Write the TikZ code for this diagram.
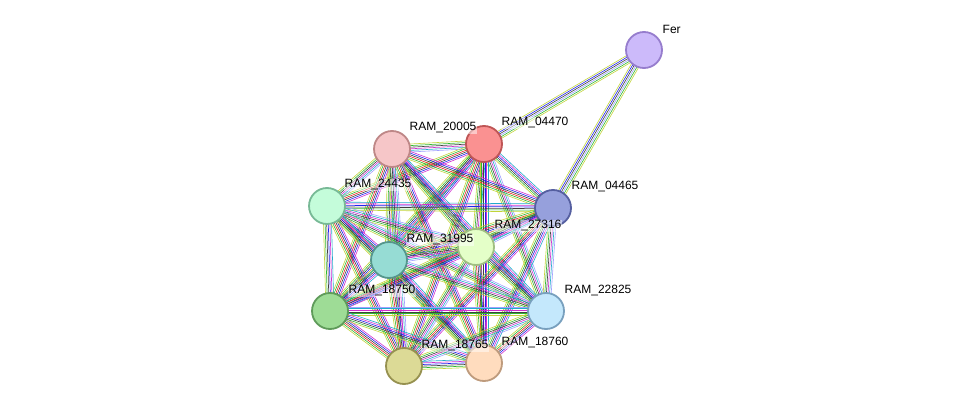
\documentclass[tikz,border=0pt]{standalone}
\usepackage{fontspec}
\setmainfont{Liberation Sans}
\usetikzlibrary{calc}
\definecolor{yg}{HTML}{C2D43A}
\definecolor{gr}{HTML}{2FB82F}
\definecolor{bk}{HTML}{404040}
\definecolor{bl}{HTML}{2222EE}
\definecolor{mg}{HTML}{D030D0}
\definecolor{cy}{HTML}{22AACC}
\definecolor{lv}{HTML}{A0A0FF}
\definecolor{rd}{HTML}{EE2222}
\newcommand\bund[3]{%
  \foreach \cc [count=\ii] in {#3} {%
    \pgfmathsetmacro\oo{(\ii-3.5)*1.6}%
    \draw[\cc,line width=0.6pt] ($(#1)!\oo pt!90:(#2)$) -- ($(#2)!\oo pt!-90:(#1)$);
  }}
\tikzset{
  nd/.style={circle,minimum size=36pt,inner sep=0pt,line width=1.8pt},
  lb/.style={font=\fontsize{12pt}{13pt}\selectfont,text=black,inner sep=0.5pt,fill=white,fill opacity=0.5,text opacity=1,anchor=south west}
}
\begin{document}
\begin{tikzpicture}[x=1pt,y=-1pt]
\useasboundingbox (0,0) rectangle (976,412);
\coordinate (Fer) at (644,50);
\coordinate (A) at (484,144);
\coordinate (B) at (392,149);
\coordinate (C) at (327,206);
\coordinate (D) at (553,208);
\coordinate (E) at (476,247);
\coordinate (F) at (389,260);
\coordinate (G) at (330,311);
\coordinate (H) at (546,311);
\coordinate (I) at (404,366);
\coordinate (J) at (484,363);
\bund{Fer}{A}{yg,bl,bk,lv,gr,yg}
\bund{Fer}{D}{yg,bl,bk,lv,gr,yg}
\foreach \p/\q [count=\k] in {A/B,A/C,A/D,A/E,A/F,A/G,A/H,A/I,A/J,B/C,B/D,B/E,B/F,B/G,B/H,B/I,B/J,C/D,C/E,C/F,C/G,C/H,C/I,C/J,D/E,D/F,D/G,D/H,D/I,D/J,E/F,E/G,E/H,E/I,E/J,F/G,F/H,F/I,F/J,G/H,G/I,G/J,H/I,H/J,I/J} {
  \pgfmathtruncatemacro\mm{mod(\k,3)}
  \ifnum\mm=0 \bund{\p}{\q}{yg,gr,bk,bl,mg,cy}\fi
  \ifnum\mm=1 \bund{\p}{\q}{yg,gr,bk,mg,cy,lv}\fi
  \ifnum\mm=2 \bund{\p}{\q}{yg,gr,rd,bk,bl,mg}\fi
}
\node[nd,fill={rgb,255:red,204;green,186;blue,250},draw={rgb,255:red,150;green,125;blue,205}] (nFer) at (Fer) {};
\node[nd,fill={rgb,255:red,250;green,145;blue,145},draw={rgb,255:red,190;green,85;blue,85}] (nA) at (A) {};
\node[nd,fill={rgb,255:red,246;green,198;blue,200},draw={rgb,255:red,190;green,135;blue,135}] (nB) at (B) {};
\node[nd,fill={rgb,255:red,196;green,252;blue,218},draw={rgb,255:red,120;green,185;blue,150}] (nC) at (C) {};
\node[nd,fill={rgb,255:red,150;green,160;blue,220},draw={rgb,255:red,85;green,95;blue,160}] (nD) at (D) {};
\node[nd,fill={rgb,255:red,228;green,255;blue,200},draw={rgb,255:red,160;green,190;blue,130}] (nE) at (E) {};
\node[nd,fill={rgb,255:red,150;green,220;blue,212},draw={rgb,255:red,85;green,150;blue,140}] (nF) at (F) {};
\node[nd,fill={rgb,255:red,158;green,220;blue,150},draw={rgb,255:red,95;green,155;blue,90}] (nG) at (G) {};
\node[nd,fill={rgb,255:red,196;green,232;blue,252},draw={rgb,255:red,120;green,160;blue,190}] (nH) at (H) {};
\node[nd,fill={rgb,255:red,220;green,218;blue,150},draw={rgb,255:red,150;green,145;blue,80}] (nI) at (I) {};
\node[nd,fill={rgb,255:red,255;green,220;blue,190},draw={rgb,255:red,190;green,155;blue,125}] (nJ) at (J) {};
\node[lb] at (662,34) {Fer};
\node[lb] at (501,129) {RAM\_04470};
\node[lb] at (409,134) {RAM\_20005};
\node[lb] at (344,191) {RAM\_24435};
\node[lb] at (571,193) {RAM\_04465};
\node[lb] at (494,232) {RAM\_27316};
\node[lb] at (406,246) {RAM\_31995};
\node[lb] at (348,297) {RAM\_18750};
\node[lb] at (564,297) {RAM\_22825};
\node[lb] at (421,352) {RAM\_18765};
\node[lb] at (501,349) {RAM\_18760};
\end{tikzpicture}
\end{document}
